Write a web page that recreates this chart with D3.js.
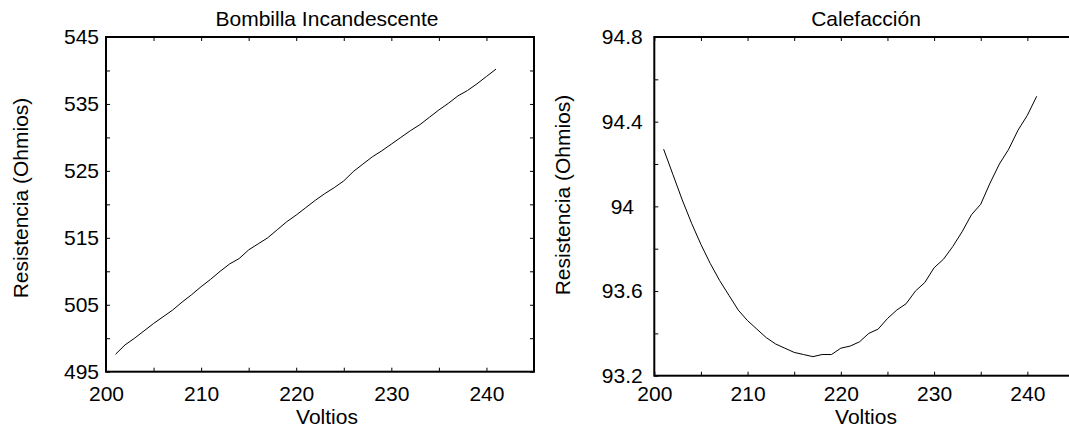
<!DOCTYPE html>
<html>
<head>
<meta charset="utf-8">
<script src="https://cdn.jsdelivr.net/npm/d3@7"></script>
<style>
  body { margin: 0; background: #fff; }
  svg text { font-family: Arial, "Liberation Sans", sans-serif; font-size: 21px; fill: #000; }
</style>
</head>
<body>
<svg id="main" width="1069" height="433"></svg>
<script>
// measured voltage (V), same steps for both devices
var voltios = [201, 202, 203, 204, 205, 206, 207, 208, 209, 210,
  211, 212, 213, 214, 215, 216, 217, 218, 219, 220,
  221, 222, 223, 224, 225, 226, 227, 228, 229, 230,
  231, 232, 233, 234, 235, 236, 237, 238, 239, 240, 241];

// resistance of the incandescent bulb (ohms)
var bombilla = [497.6, 499.0, 500.0, 501.1, 502.2, 503.2, 504.2, 505.4, 506.5, 507.7,
  508.8, 510.0, 511.1, 511.9, 513.2, 514.1, 515.0, 516.2, 517.4, 518.4,
  519.5, 520.6, 521.6, 522.5, 523.5, 524.9, 526.0, 527.1, 528.0, 529.0,
  530.0, 531.0, 531.9, 533.0, 534.1, 535.1, 536.2, 537.0, 538.0, 539.1, 540.2];

// resistance of the heater (ohms)
var calefaccion = [94.27, 94.15, 94.03, 93.92, 93.82, 93.73, 93.65, 93.58, 93.51, 93.46,
  93.42, 93.38, 93.35, 93.33, 93.31, 93.30, 93.29, 93.30, 93.30, 93.33,
  93.34, 93.36, 93.40, 93.42, 93.47, 93.51, 93.54, 93.60, 93.64, 93.71,
  93.75, 93.81, 93.88, 93.96, 94.01, 94.11, 94.20, 94.27, 94.36, 94.43, 94.52];

var xTicks = [200, 210, 220, 230, 240];
var xMinor = [205, 215, 225, 235];
var bombillaTicks = [495, 505, 515, 525, 535, 545];
var bombillaMinor = [500, 510, 520, 530, 540];
var calefTicks = [93.2, 93.6, 94.0, 94.4, 94.8];
var calefMinor = [93.4, 93.8, 94.2, 94.6];

var mainSVG = d3.select("#main");

/*
  One boxed plot: inward ticks on all four sides,
  labels only on the bottom and left.
*/
function drawPanel(p) {
  var g = mainSVG.append("g");
  var x = d3.scaleLinear().domain([200, 245]).range([p.left, p.right]);
  var y = d3.scaleLinear().domain(p.yDomain).range([p.bottom, p.top]);
  var tick = -4;
  var allX = xTicks.concat(xMinor);
  var allY = p.yTicks.concat(p.yMinor);

  // bottom
  g.append("g")
    .attr("transform", "translate(0," + p.bottom + ")")
    .call(d3.axisBottom(x).tickValues(xTicks).tickSize(tick).tickPadding(p.xPad).tickFormat(d3.format("d")));
  g.append("g")
    .attr("transform", "translate(0," + p.bottom + ")")
    .call(d3.axisBottom(x).tickValues(xMinor).tickSize(tick).tickFormat(""));
  // top
  g.append("g")
    .attr("transform", "translate(0," + p.top + ")")
    .call(d3.axisTop(x).tickValues(allX).tickSize(tick).tickFormat(""));

  // left
  var left = g.append("g")
    .attr("transform", "translate(" + p.left + ",0)")
    .call(d3.axisLeft(y).tickValues(p.yTicks).tickSize(tick).tickPadding(p.yPad)
      .tickFormat(function(d) { return String(+d.toFixed(1)); }));
  if (p.yAnchor === "middle") {
    left.selectAll("text").attr("text-anchor", "middle").attr("x", -p.yPad);
  }
  g.append("g")
    .attr("transform", "translate(" + p.left + ",0)")
    .call(d3.axisLeft(y).tickValues(p.yMinor).tickSize(tick).tickFormat(""));
  // right
  g.append("g")
    .attr("transform", "translate(" + p.right + ",0)")
    .call(d3.axisRight(y).tickValues(allY).tickSize(tick).tickFormat(""));

  g.selectAll(".domain").remove();
  g.selectAll(".tick line").attr("stroke", "#000").attr("stroke-width", 1);
  g.selectAll(".tick text").attr("font-size", null).attr("font-family", null);

  // frame
  g.append("rect")
    .attr("x", p.left).attr("y", p.top)
    .attr("width", p.right - p.left).attr("height", p.bottom - p.top)
    .attr("fill", "none").attr("stroke", "#000").attr("stroke-width", 2);

  // the curve
  var line = d3.line()
    .x(function(d, i) { return x(voltios[i]); })
    .y(function(d) { return y(d); });
  g.append("path").datum(p.values)
    .attr("d", line)
    .attr("fill", "none").attr("stroke", "#000").attr("stroke-width", 1);

  // titles
  g.append("text").attr("x", p.titleX).attr("y", 26)
    .attr("text-anchor", "middle").text(p.title);
  g.append("text").attr("x", p.titleX).attr("y", 424)
    .attr("text-anchor", "middle").text("Voltios");
  g.append("text")
    .attr("transform", "translate(" + p.yLabelX + "," + p.yLabelY + ") rotate(-90)")
    .attr("text-anchor", "middle").text("Resistencia (Ohmios)");
}

drawPanel({
  title: "Bombilla Incandescente", values: bombilla,
  yDomain: [495, 545], yTicks: bombillaTicks, yMinor: bombillaMinor,
  left: 106, right: 534, top: 37, bottom: 371.7,
  xPad: 14, yPad: 7, yAnchor: "end",
  titleX: 327, yLabelX: 28, yLabelY: 198
});

drawPanel({
  title: "Calefacción", values: calefaccion,
  yDomain: [93.2, 94.8], yTicks: calefTicks, yMinor: calefMinor,
  left: 654.3, right: 1074, top: 37, bottom: 375.7,
  xPad: 10, yPad: 32, yAnchor: "middle",
  titleX: 866, yLabelX: 570, yLabelY: 195
});
</script>
</body>
</html>
